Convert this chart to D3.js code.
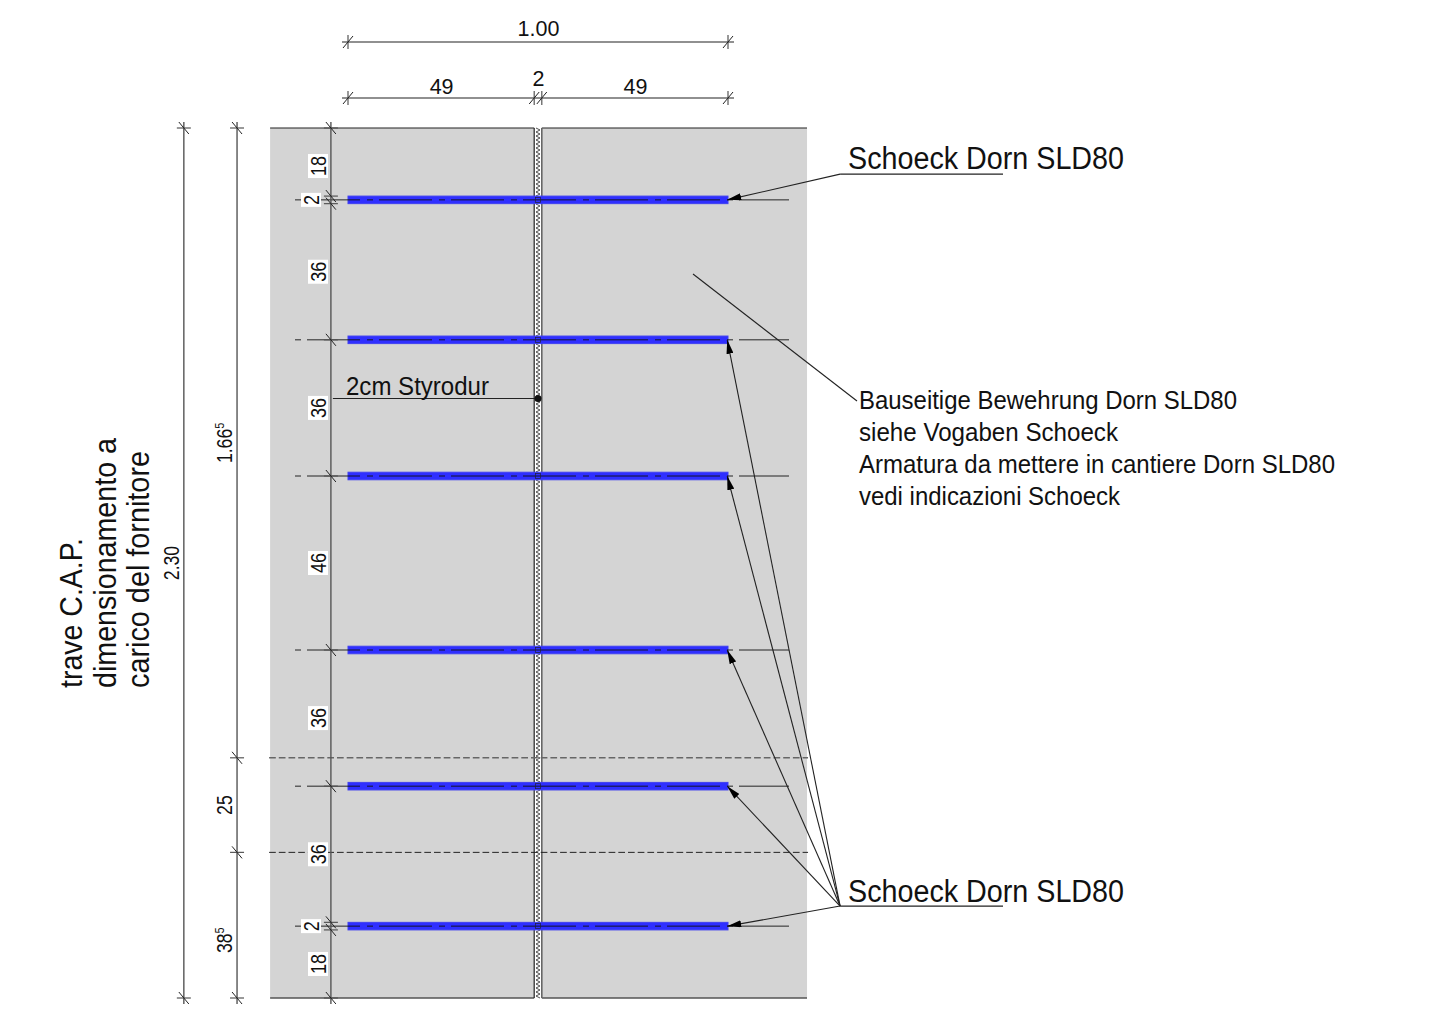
<!DOCTYPE html>
<html>
<head>
<meta charset="utf-8">
<script src="https://cdn.jsdelivr.net/npm/d3@7"></script>
<style>
html,body{margin:0;background:#fff}
svg{display:block}
text{font-family:"Liberation Sans",Arial,sans-serif;fill:#111}
</style>
</head>
<body>
<script>
// all lengths in cm, measured from the left bar end / top of the beam
const rowSpans = [18, 2, 36, 36, 46, 36, 36, 2, 18];
const splitSpans = [166.5, 25, 38.5];
const splitLabels = ["1.66|5", "25", "38|5"];
const totalSpan = [230];
const totalLabels = ["2.30"];
const widthSpans = [49, 2, 49];
const overallWidth = [100];
const overallLabels = ["1.00"];
const dowelRows = [19, 56, 92, 138, 174, 211];
const beamLeft = -20.5, beamRight = 120.8;
const noteLines = ["Bauseitige Bewehrung Dorn SLD80", "siehe Vogaben Schoeck", "Armatura da mettere in cantiere Dorn SLD80", "vedi indicazioni Schoeck"];
const noteWidths = [378, 259, 476, 261];
const sideLines = ["trave C.A.P.", "dimensionamento a", "carico del fornitore"];
const sideWidths = [150, 250, 237];
const leaderLabel = "Schoeck Dorn SLD80";
const foamLabel = "2cm Styrodur";

const W = 1438, H = 1013;
const x = d3.scaleLinear().domain([0, 100]).range([348, 728]);
const y = d3.scaleLinear().domain([0, 230]).range([128, 998]);
const svg = d3.select("body").append("svg").attr("width", W).attr("height", H).attr("viewBox", `0 0 ${W} ${H}`);

const dark = "#222", mid = "#555";
const cum = a => { let s = 0; return [0, ...a.map(v => s += v)]; };
const ln = (g, x1, y1, x2, y2, color = dark, sw = 1) => g.append("line").attr("x1", x1).attr("y1", y1).attr("x2", x2).attr("y2", y2).attr("stroke", color).attr("stroke-width", sw);

const defs = svg.append("defs");
defs.append("marker").attr("id", "head").attr("markerUnits", "userSpaceOnUse").attr("viewBox", "0 0 14 7")
  .attr("markerWidth", 14).attr("markerHeight", 7).attr("refX", 14).attr("refY", 3.5).attr("orient", "auto")
  .append("path").attr("d", "M0,0L14,3.5L0,7Z").attr("fill", "#000");

// beam, with the joint left open
const beam = svg.append("g");
beam.append("rect").attr("x", x(beamLeft)).attr("y", y(0)).attr("width", x(49) - x(beamLeft)).attr("height", y(230) - y(0)).attr("fill", "#d4d4d4");
beam.append("rect").attr("x", x(51)).attr("y", y(0)).attr("width", x(beamRight) - x(51)).attr("height", y(230) - y(0)).attr("fill", "#d4d4d4");
[[beamLeft, 49], [51, beamRight]].forEach(([a, b]) => {
  ln(beam, x(a), y(0), x(b), y(0), dark, 1.2);
  ln(beam, x(a), y(230), x(b), y(230), mid, 1.6);
});
[49, 51].forEach((v, i) => ln(beam, x(v), y(0), x(v), y(230), i ? "#666" : dark, i ? 1.6 : 1.2));

// zigzag of the foam strip
const zig = d3.line().x(d => x(50) + (d % 2 ? 2 : -2)).y(d => y(0) + d * 2);
beam.append("path").attr("d", zig(d3.range(0, Math.floor((y(230) - y(0)) / 2) + 1)))
  .attr("fill", "none").attr("stroke", "#333").attr("stroke-width", .85);

// section lines of the split chain
cum(splitSpans).slice(1, -1).forEach((v, i) => ln(beam, x(beamLeft) - 1, y(v), x(beamRight) + 1, y(v), i ? dark : "#666", i ? 1 : 1.4).attr("stroke-dasharray", "6.7 3"));

// dowels
const dowels = svg.append("g").selectAll("g").data(dowelRows).join("g");
dowels.append("rect").attr("x", x(0)).attr("width", x(100) - x(0)).attr("y", d => y(d - 1)).attr("height", d => y(d + 1) - y(d - 1))
  .attr("fill", "#2f2fff").attr("stroke", "#4040f0").attr("stroke-width", 1);
dowels.append("line").attr("x1", 789).attr("x2", 292).attr("y1", d => y(d)).attr("y2", d => y(d))
  .attr("stroke", "#111").attr("stroke-width", .9).attr("stroke-dasharray", "53 6 6 7").attr("stroke-dashoffset", 3);
dowels.append("rect").attr("x", x(50) - 2.5).attr("width", 5).attr("y", d => y(d) - 2.5).attr("height", 5).attr("fill", "none").attr("stroke", "#223").attr("stroke-width", .7);

// dimension chains
const tickH = (g, px, py) => { ln(g, px, py - 7, px, py + 7, mid, 1.2); ln(g, px - 5, py + 6, px + 5, py - 6, dark, 1); };
const tickV = (g, px, py) => { ln(g, px - 7, py, px + 7, py, mid, 1.2); ln(g, px - 5, py - 6, px + 5, py + 6, dark, 1); };
const dims = svg.append("g");

function hChain(spans, py, labels, baseY){
  const c = cum(spans);
  ln(dims, x(c[0]) - 6, py, x(c[c.length - 1]) + 6, py, dark, 1.1);
  c.forEach(v => tickH(dims, x(v), py));
  spans.forEach((s, i) => dims.append("text").attr("x", x((c[i] + c[i + 1]) / 2) + .5).attr("y", baseY[i]).attr("text-anchor", "middle").attr("font-size", 21.5).text(labels[i]));
}
hChain(overallWidth, 42, overallLabels, [36]);
hChain(widthSpans, 98, widthSpans.map(String), [93.5, 86, 93.5]);

function rotLabel(px, py, txt, size, sx){
  const t = dims.append("text").attr("transform", `translate(${px},${py}) rotate(-90) scale(${sx},1)`).attr("text-anchor", "middle").attr("font-size", size);
  const [a, b] = txt.split("|");
  t.append("tspan").text(a);
  if(b) t.append("tspan").attr("font-size", size * .62).attr("dy", -size * .36).text(b);
  return t;
}
function vChain(spans, px, labels, basePx, nudge){
  const c = cum(spans);
  ln(dims, px, y(0) - 6, px, y(230) + 6, mid, 1.4);
  c.forEach(v => tickV(dims, px, y(v)));
  spans.forEach((s, i) => rotLabel(basePx, y((c[i] + c[i + 1]) / 2) + nudge[i], labels[i], 21.5, .82));
}
vChain(totalSpan, x(-43.2), totalLabels, 179, [0]);
vChain(splitSpans, x(-29.2), splitLabels, 232, [0, 0, 15]);

// row chain, labels sit on white boxes
const rowPx = x(-4.5), rowCum = cum(rowSpans);
ln(dims, rowPx, y(0) - 6, rowPx, y(230) + 6, mid, 1.4);
rowCum.forEach(v => tickV(dims, rowPx, y(v)));
rowSpans.forEach((s, i) => {
  const my = y((rowCum[i] + rowCum[i + 1]) / 2) + (s === 18 && !i ? 4 : 0);
  const narrow = s === 2;
  dims.append("rect").attr("x", narrow ? 301 : 308).attr("y", my - (narrow ? 7 : 12)).attr("width", 20).attr("height", narrow ? 14 : 24).attr("fill", "#fff");
  rotLabel(narrow ? 319 : 326, my, String(s), 22, .82);
});

// leaders
const notes = svg.append("g");
const leader = (x1, y1, x2, y2, arrow) => {
  const l = ln(notes, x1, y1, x2, y2, dark, 1.1);
  if(arrow) l.attr("marker-end", "url(#head)");
};
const elbowX = x(129.5);
leader(elbowX, y(12.2), x(99.8), y(dowelRows[0]), true);
[1, 2, 3, 4, 5].forEach(r => leader(elbowX, y(205.7), x(99.8), y(dowelRows[r]), true));
[12.2, 205.7].forEach((v, i) => {
  ln(notes, elbowX, y(v), 1003, y(v), dark, 1.3);
  notes.append("text").attr("x", 848).attr("y", [169, 901.5][i]).attr("font-size", 31).attr("textLength", 276).attr("lengthAdjust", "spacingAndGlyphs").text(leaderLabel);
});
leader(693, 274, 857, 401);
noteLines.forEach((t, i) => notes.append("text").attr("x", 859).attr("y", [409, 441, 473, 505][i]).attr("font-size", 26.5)
  .attr("textLength", noteWidths[i]).attr("lengthAdjust", "spacingAndGlyphs").text(t));

// foam callout
ln(notes, rowPx + 2, 398.5, x(50), 398.5, dark, 1.1);
notes.append("circle").attr("cx", x(50)).attr("cy", 398.5).attr("r", 3.5).attr("fill", "#111");
notes.append("text").attr("x", 346).attr("y", 395).attr("font-size", 26).attr("textLength", 143).attr("lengthAdjust", "spacingAndGlyphs").text(foamLabel);

// side note
sideLines.forEach((t, i) => notes.append("text").attr("transform", `translate(${[82, 116, 149][i]},688) rotate(-90)`)
  .attr("font-size", 31).attr("textLength", sideWidths[i]).attr("lengthAdjust", "spacingAndGlyphs").text(t));
</script>
</body>
</html>
